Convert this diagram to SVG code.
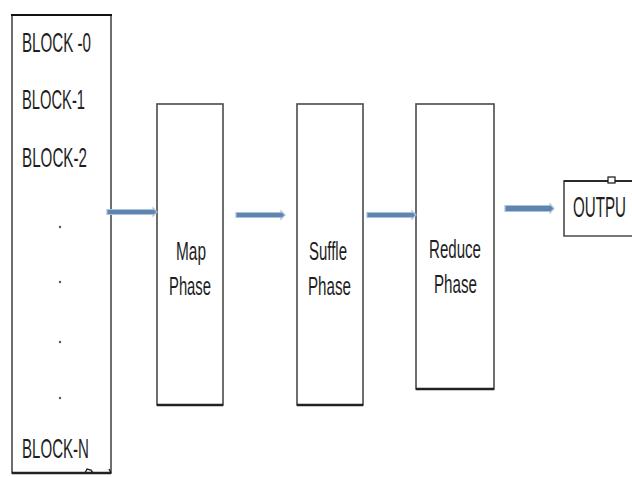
<svg xmlns="http://www.w3.org/2000/svg" width="632" height="477" viewBox="0 0 632 477">
<style>
.box{fill:#fff;stroke:#4a4a4a;stroke-width:1.6}
.bot{stroke:#222;stroke-width:2.4}
.t{font-family:"Liberation Sans",Arial,sans-serif;fill:#1e1e1e}
.arr{fill:#5f84ae;stroke:#a9c2de;stroke-width:1.2}
.dot{fill:#555}
</style>
<rect width="632" height="477" fill="#fff"/>
<g id="blocks">
<rect class="box" x="12" y="15" width="99" height="458"/>
<line x1="11" y1="15" x2="112" y2="15" stroke="#111" stroke-width="2"/>
<line class="bot" x1="12" y1="473" x2="111" y2="473"/>
<path d="M85 473 L87 469 L91 470 L93 473" fill="none" stroke="#222" stroke-width="1.4"/>
<path d="M109 469 L111 473" fill="none" stroke="#222" stroke-width="1.4"/>
<text class="t" x="22" y="52" font-size="28" textLength="69" lengthAdjust="spacingAndGlyphs">BLOCK -0</text>
<text class="t" x="22" y="109" font-size="28" textLength="63" lengthAdjust="spacingAndGlyphs">BLOCK-1</text>
<text class="t" x="22" y="167" font-size="28" textLength="65" lengthAdjust="spacingAndGlyphs">BLOCK-2</text>
<text class="t" x="22" y="458" font-size="28" textLength="67" lengthAdjust="spacingAndGlyphs">BLOCK-N</text>
<circle class="dot" cx="60" cy="227" r="1.2"/>
<circle class="dot" cx="60" cy="282" r="1.2"/>
<circle class="dot" cx="60" cy="342" r="1.2"/>
<circle class="dot" cx="60" cy="398" r="1.2"/>
</g>
<g id="map">
<rect class="box" x="157" y="104" width="66" height="301"/>
<line class="bot" x1="157" y1="405" x2="223" y2="405"/>
<text class="t" x="176" y="260" font-size="26" textLength="30" lengthAdjust="spacingAndGlyphs">Map</text>
<text class="t" x="169" y="295" font-size="26" textLength="42" lengthAdjust="spacingAndGlyphs">Phase</text>
</g>
<g id="suffle">
<rect class="box" x="297" y="104" width="66" height="301"/>
<line class="bot" x1="297" y1="405" x2="363" y2="405"/>
<text class="t" x="309" y="260" font-size="26" textLength="38" lengthAdjust="spacingAndGlyphs">Suffle</text>
<text class="t" x="308" y="295" font-size="26" textLength="43" lengthAdjust="spacingAndGlyphs">Phase</text>
</g>
<g id="reduce">
<rect class="box" x="416" y="104" width="78" height="285"/>
<line class="bot" x1="416" y1="389" x2="494" y2="389"/>
<text class="t" x="429" y="258" font-size="26" textLength="52" lengthAdjust="spacingAndGlyphs">Reduce</text>
<text class="t" x="434" y="293" font-size="26" textLength="43" lengthAdjust="spacingAndGlyphs">Phase</text>
</g>
<g id="output">
<path class="box" d="M634 181 L564 181 L564 236 L634 236"/>
<line x1="564" y1="181" x2="632" y2="181" stroke="#111" stroke-width="1.6"/>
<rect x="608" y="177" width="7" height="6" fill="#fff" stroke="#111" stroke-width="1.2"/>
<text class="t" x="573" y="217" font-size="30" textLength="53" lengthAdjust="spacingAndGlyphs">OUTPU</text>
</g>
<g id="connectors">
<polygon class="arr" points="107,209.5 153,209.5 153,208 157,212 153,216 153,214.5 107,214.5"/>
<polygon class="arr" points="236,212.5 281,212.5 281,211 285,215 281,219 281,217.5 236,217.5"/>
<polygon class="arr" points="367,212.5 412,212.5 412,211 416,215 412,219 412,217.5 367,217.5"/>
<polygon class="arr" points="505,205.5 550,205.5 550,204 554,208.5 550,213 550,211.5 505,211.5"/>
</g>
</svg>
